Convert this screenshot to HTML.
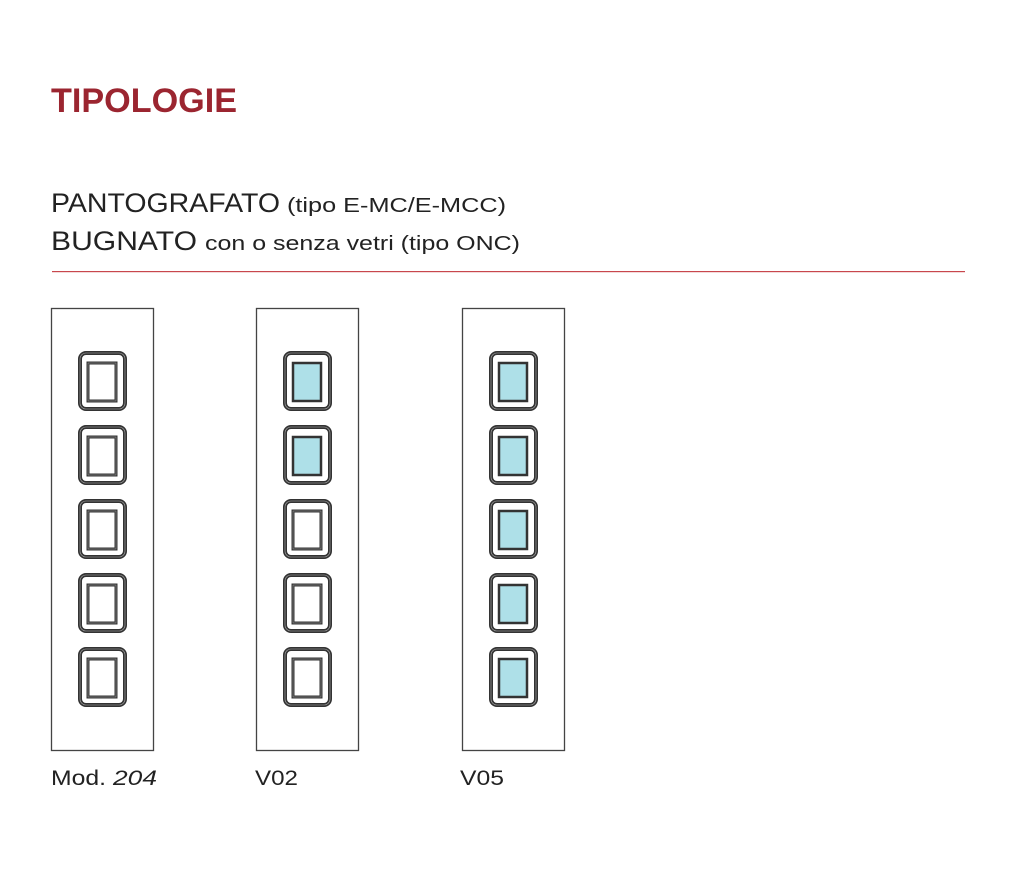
<!DOCTYPE html>
<html><head><meta charset="utf-8"><style>
html,body{margin:0;padding:0;background:#fff;}
body{width:1024px;height:892px;position:relative;overflow:hidden;font-family:"Liberation Sans",sans-serif;}
</style></head><body>
<svg width="1024" height="892" viewBox="0 0 1024 892" xmlns="http://www.w3.org/2000/svg" style="position:absolute;left:0;top:0">
<text x="51" y="112" font-family="Liberation Sans, sans-serif" font-weight="bold" font-size="34" fill="#9b2530" textLength="186" lengthAdjust="spacingAndGlyphs">TIPOLOGIE</text>
<text x="51" y="212" font-family="Liberation Sans, sans-serif" font-size="27" fill="#222"><tspan textLength="229" lengthAdjust="spacingAndGlyphs">PANTOGRAFATO</tspan><tspan x="287" font-size="20" textLength="219" lengthAdjust="spacingAndGlyphs">(tipo E-MC/E-MCC)</tspan></text>
<text x="51" y="250" font-family="Liberation Sans, sans-serif" font-size="27" fill="#222"><tspan textLength="146" lengthAdjust="spacingAndGlyphs">BUGNATO</tspan><tspan x="205" font-size="20" textLength="315" lengthAdjust="spacingAndGlyphs">con o senza vetri (tipo ONC)</tspan></text>
<rect x="52" y="271" width="913" height="1.2" fill="#c8474d"/>
<defs>
<g id="sq">
<rect x="80" y="353" width="45" height="56" rx="6" fill="none" stroke="#333" stroke-width="4"/>
<rect x="80" y="353" width="45" height="56" rx="6" fill="none" stroke="#fff" stroke-width="0.6" opacity="0.6"/>
</g>
<g id="in">
<rect x="88" y="363" width="28" height="38" fill="none" stroke="#333" stroke-width="3"/>
<rect x="88" y="363" width="28" height="38" fill="none" stroke="#999" stroke-width="0.6"/>
</g>
<g id="gl">
<rect x="88" y="363" width="28" height="38" fill="#aee0e8" stroke="#333" stroke-width="2.5"/>
</g>
</defs>
<g fill="none" stroke="#444" stroke-width="1.3">
<rect x="51.5" y="308.5" width="102" height="442"/>
<rect x="256.5" y="308.5" width="102" height="442"/>
<rect x="462.5" y="308.5" width="102" height="442"/>
</g>
<g><use href="#sq"/><use href="#in"/></g>
<g transform="translate(0,74)"><use href="#sq"/><use href="#in"/></g>
<g transform="translate(0,148)"><use href="#sq"/><use href="#in"/></g>
<g transform="translate(0,222)"><use href="#sq"/><use href="#in"/></g>
<g transform="translate(0,296)"><use href="#sq"/><use href="#in"/></g>
<g transform="translate(205,0)"><use href="#sq"/><use href="#gl"/></g>
<g transform="translate(205,74)"><use href="#sq"/><use href="#gl"/></g>
<g transform="translate(205,148)"><use href="#sq"/><use href="#in"/></g>
<g transform="translate(205,222)"><use href="#sq"/><use href="#in"/></g>
<g transform="translate(205,296)"><use href="#sq"/><use href="#in"/></g>
<g transform="translate(411,0)"><use href="#sq"/><use href="#gl"/></g>
<g transform="translate(411,74)"><use href="#sq"/><use href="#gl"/></g>
<g transform="translate(411,148)"><use href="#sq"/><use href="#gl"/></g>
<g transform="translate(411,222)"><use href="#sq"/><use href="#gl"/></g>
<g transform="translate(411,296)"><use href="#sq"/><use href="#gl"/></g>
<text x="51" y="785" font-family="Liberation Sans, sans-serif" font-size="21" fill="#222"><tspan textLength="55" lengthAdjust="spacingAndGlyphs">Mod.</tspan><tspan x="113" font-style="italic" textLength="44" lengthAdjust="spacingAndGlyphs">204</tspan></text>
<text x="255" y="785" font-family="Liberation Sans, sans-serif" font-size="21" fill="#222" textLength="43" lengthAdjust="spacingAndGlyphs">V02</text>
<text x="460" y="785" font-family="Liberation Sans, sans-serif" font-size="21" fill="#222" textLength="44" lengthAdjust="spacingAndGlyphs">V05</text>
</svg>
</body></html>
